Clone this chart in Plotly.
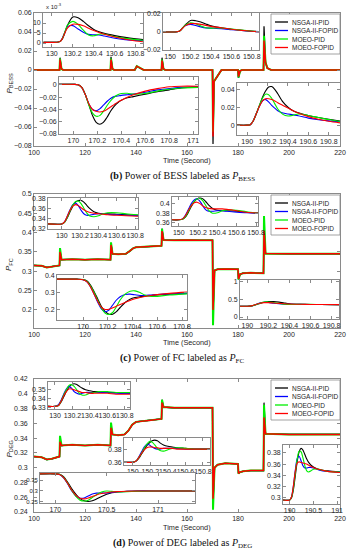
import plotly.graph_objects as go

W, H = 352, 550
FONT = "Liberation Sans, Arial, sans-serif"
SERIF = "Liberation Serif, Times New Roman, serif"
AXC = "#8a8a8a"
TXT = "#262626"

names = ["NSGA-II-PID", "NSGA-II-FOPID", "MOEO-PID", "MOEO-FOPID"]
colors = ["#000000", "#0000ff", "#00ee00", "#ff0000"]
main_widths = [1.2, 1.2, 2.0, 1.5]

main_xticks = [100, 120, 140, 160, 180, 200, 220]

# ---------------- Panel (b): P_BESS main trace (None = transient peak) -----
b_t = [100, 110, 110.2, 110.8, 111.5, 130, 130.2, 130.8, 131.5, 139.5, 140.3, 141, 142, 143,
       150, 150.2, 150.8, 151.5, 170, 170.2, 170.6, 171.5, 172.5, 173.5, 180, 180.2, 180.8,
       181.5, 190, 190.2, 190.8, 191.5, 193, 220]
b_y = [0, 0, None, 0.001, 0, 0, None, 0.001, 0, 0, 0.004, 0.003, 0.001, 0,
       0, None, 0.001, 0, 0, None, -0.012, -0.008, -0.003, 0, 0, None, -0.001,
       0, 0, None, 0.008, 0.002, 0, 0]
b_peaks = {
    "NSGA-II-PID":   [0.013, 0.014, 0.013, -0.078, -0.008, 0.046],
    "NSGA-II-FOPID": [0.010, 0.010, 0.009, -0.055, -0.008, 0.030],
    "MOEO-PID":      [0.012, 0.012, 0.011, -0.065, -0.008, 0.036],
    "MOEO-FOPID":    [0.011, 0.011, 0.010, -0.070, -0.007, 0.031],
}
b_yticks = [-0.08, -0.06, -0.04, -0.02, 0, 0.02, 0.04, 0.06]

# ---------------- Panel (c): P_FC main trace -----------------------------
c_t = [100, 103, 105, 107, 110, 110.2, 110.8, 115, 120, 125, 130, 130.2, 130.8, 133, 136,
       137.5, 139, 140, 145, 150, 150.2, 150.8, 155, 160, 165, 170, 170.2, 170.8, 172, 175,
       180, 180.2, 180.8, 182, 185, 190, 190.2, 190.8, 200, 210, 220]
c_y = [0.315, 0.314, 0.31, 0.312, 0.315, None, 0.33, 0.331, 0.33, 0.331, 0.33, None, 0.345, 0.344, 0.345,
       0.352, 0.36, 0.362, 0.364, 0.366, None, 0.381, 0.38, 0.381, 0.38, 0.38, None, 0.302, 0.305, 0.306,
       0.305, None, 0.292, 0.295, 0.296, 0.295, None, 0.346, 0.345, 0.345, 0.345]
c_peaks = {
    "NSGA-II-PID":   [0.355, 0.372, 0.410, 0.190, 0.280, 0.420],
    "NSGA-II-FOPID": [0.350, 0.370, 0.410, 0.190, 0.280, 0.410],
    "MOEO-PID":      [0.360, 0.375, 0.410, 0.160, 0.278, 0.443],
    "MOEO-FOPID":    [0.350, 0.368, 0.404, 0.200, 0.280, 0.405],
}
c_yticks = [0.2, 0.25, 0.3, 0.35, 0.4, 0.45, 0.5]

# ---------------- Panel (d): P_DEG main trace ----------------------------
d_t = [100, 103, 105, 107, 110, 110.2, 110.8, 115, 120, 125, 130, 130.2, 130.8, 133, 135.5,
       137, 138.5, 140, 145, 150, 150.2, 150.8, 155, 160, 165, 170, 170.2, 170.8, 172, 175,
       180, 180.2, 180.8, 182, 185, 190, 190.2, 190.8, 200, 210, 220]
d_y = [0.315, 0.314, 0.311, 0.312, 0.315, None, 0.33, 0.331, 0.33, 0.331, 0.33, None, 0.345, 0.344, 0.345,
       0.35, 0.358, 0.362, 0.364, 0.366, None, 0.382, 0.381, 0.381, 0.38, 0.381, None, 0.3, 0.304, 0.306,
       0.305, None, 0.294, 0.295, 0.296, 0.296, None, 0.346, 0.345, 0.345, 0.345]
d_peaks = {
    "NSGA-II-PID":   [0.338, 0.358, 0.392, 0.250, 0.292, 0.388],
    "NSGA-II-FOPID": [0.336, 0.356, 0.390, 0.255, 0.292, 0.378],
    "MOEO-PID":      [0.343, 0.361, 0.392, 0.243, 0.292, 0.385],
    "MOEO-FOPID":    [0.335, 0.354, 0.388, 0.258, 0.292, 0.368],
}
d_yticks = [0.24, 0.26, 0.28, 0.3, 0.32, 0.34, 0.36, 0.38, 0.4, 0.42]

# ---------------- Inset (zoom) data -----------------------------------------
# (b) 130 s, values in units of 1e-3
b1_t = [129.92, 130.0, 130.05, 130.08, 130.1, 130.12, 130.15, 130.2, 130.25, 130.3, 130.35, 130.4,
        130.45, 130.5, 130.6, 130.7, 130.8, 130.87]
b1 = {
    "NSGA-II-PID":   [0.3, 0.3, 0.4, 0.8, 2.0, 4.5, 9.0, 13.0, 12.6, 10.8, 8.6, 6.8, 5.6, 4.8, 3.7, 2.8, 2.1, 1.7],
    "NSGA-II-FOPID": [0.3, 0.3, 0.4, 0.9, 2.4, 5.0, 8.2, 8.7, 7.0, 5.4, 4.3, 4.1, 4.0, 3.5, 2.4, 1.7, 1.3, 1.2],
    "MOEO-PID":      [0.3, 0.3, 0.4, 0.8, 2.2, 5.0, 9.0, 10.8, 9.3, 6.4, 4.0, 3.6, 4.4, 4.5, 3.2, 2.3, 1.7, 1.4],
    "MOEO-FOPID":    [0.3, 0.3, 0.4, 0.8, 2.2, 4.6, 7.6, 9.4, 9.3, 8.6, 7.4, 6.2, 5.2, 4.4, 3.0, 1.9, 1.0, 0.6],
}
b2_t = [149.92, 150.0, 150.05, 150.08, 150.1, 150.12, 150.15, 150.2, 150.25, 150.3, 150.35, 150.4,
        150.5, 150.6, 150.7, 150.8, 150.87]
b2 = {
    "NSGA-II-PID":   [0, 0, 0, 0.0005, 0.0015, 0.004, 0.008, 0.0128, 0.0125, 0.011, 0.0088, 0.0068, 0.0045, 0.003, 0.0018, 0.0008, 0.0003],
    "NSGA-II-FOPID": [0, 0, 0, 0.0005, 0.0018, 0.0042, 0.0072, 0.0084, 0.0072, 0.0056, 0.0045, 0.0042, 0.0036, 0.0026, 0.0016, 0.0008, 0.0004],
    "MOEO-PID":      [0, 0, 0, 0.0005, 0.0016, 0.0042, 0.0078, 0.0102, 0.009, 0.0066, 0.0046, 0.0042, 0.0044, 0.0032, 0.002, 0.001, 0.0005],
    "MOEO-FOPID":    [0, 0, 0, 0.0005, 0.0016, 0.004, 0.007, 0.0092, 0.0092, 0.0084, 0.0073, 0.0062, 0.0046, 0.003, 0.0018, 0.0008, 0.0002],
}
b3_t = [169.88, 170.0, 170.04, 170.07, 170.1, 170.13, 170.16, 170.19, 170.22, 170.25, 170.28, 170.31,
        170.34, 170.37, 170.4, 170.45, 170.5, 170.6, 170.7, 170.8, 170.9, 171.04]
b3 = {
    "NSGA-II-PID":   [0.001, 0.001, 0.0005, -0.004, -0.016, -0.033, -0.050, -0.061, -0.064, -0.061, -0.053, -0.043, -0.035, -0.029, -0.025, -0.021, -0.019, -0.015, -0.011, -0.008, -0.005, -0.003],
    "NSGA-II-FOPID": [0.001, 0.001, 0.0005, -0.004, -0.016, -0.031, -0.040, -0.042, -0.039, -0.033, -0.027, -0.022, -0.019, -0.018, -0.017, -0.016, -0.015, -0.012, -0.008, -0.006, -0.004, -0.003],
    "MOEO-PID":      [0.001, 0.001, 0.0005, -0.004, -0.016, -0.033, -0.046, -0.051, -0.050, -0.043, -0.034, -0.026, -0.020, -0.016, -0.014, -0.0135, -0.015, -0.014, -0.010, -0.007, -0.005, -0.004],
    "MOEO-FOPID":    [0.001, 0.001, 0.0005, -0.004, -0.016, -0.031, -0.040, -0.043, -0.044, -0.043, -0.040, -0.036, -0.032, -0.028, -0.025, -0.020, -0.016, -0.010, -0.006, -0.003, -0.002, -0.002],
}
b4_t = [189.9, 190.0, 190.03, 190.06, 190.09, 190.12, 190.15, 190.18, 190.21, 190.24, 190.27, 190.3,
        190.35, 190.4, 190.45, 190.5, 190.6, 190.7, 190.8, 190.91]
b4 = {
    "NSGA-II-PID":   [0, 0, 0.0005, 0.005, 0.013, 0.022, 0.031, 0.038, 0.0425, 0.043, 0.040, 0.035, 0.026, 0.020, 0.016, 0.0138, 0.0108, 0.0085, 0.0065, 0.0045],
    "NSGA-II-FOPID": [0, 0, 0.0005, 0.005, 0.013, 0.021, 0.027, 0.0285, 0.026, 0.022, 0.019, 0.016, 0.0135, 0.0125, 0.0115, 0.0105, 0.0078, 0.006, 0.0048, 0.0038],
    "MOEO-PID":      [0, 0, 0.0005, 0.005, 0.013, 0.022, 0.030, 0.0345, 0.034, 0.030, 0.024, 0.018, 0.012, 0.0102, 0.011, 0.0125, 0.0108, 0.0085, 0.0062, 0.004],
    "MOEO-FOPID":    [0, 0, 0.0005, 0.005, 0.013, 0.021, 0.027, 0.0295, 0.0295, 0.0285, 0.027, 0.025, 0.022, 0.019, 0.016, 0.0135, 0.0095, 0.0065, 0.0043, 0.0025],
}
# (c)
c1_t = [129.85, 130.0, 130.03, 130.06, 130.09, 130.12, 130.15, 130.18, 130.21, 130.24, 130.27, 130.3,
        130.35, 130.4, 130.45, 130.5, 130.6, 130.7, 130.83]
c1 = {
    "NSGA-II-PID":   [0.33, 0.33, 0.333, 0.342, 0.354, 0.365, 0.373, 0.376, 0.376, 0.373, 0.367, 0.361, 0.354, 0.351, 0.350, 0.350, 0.349, 0.348, 0.347],
    "NSGA-II-FOPID": [0.33, 0.33, 0.334, 0.345, 0.358, 0.368, 0.371, 0.366, 0.357, 0.350, 0.347, 0.347, 0.349, 0.350, 0.350, 0.349, 0.348, 0.347, 0.346],
    "MOEO-PID":      [0.33, 0.33, 0.333, 0.343, 0.356, 0.367, 0.374, 0.375, 0.370, 0.361, 0.352, 0.346, 0.344, 0.346, 0.350, 0.352, 0.352, 0.350, 0.348],
    "MOEO-FOPID":    [0.33, 0.33, 0.334, 0.345, 0.357, 0.365, 0.368, 0.366, 0.362, 0.358, 0.355, 0.353, 0.351, 0.350, 0.349, 0.348, 0.347, 0.346, 0.345],
}
c2_t = [149.93, 150.0, 150.04, 150.07, 150.1, 150.13, 150.16, 150.19, 150.22, 150.25, 150.28, 150.31,
        150.35, 150.4, 150.45, 150.5, 150.6, 150.7, 150.82]
c2 = {
    "NSGA-II-PID":   [0.366, 0.366, 0.367, 0.372, 0.382, 0.394, 0.404, 0.410, 0.412, 0.410, 0.404, 0.397, 0.390, 0.386, 0.385, 0.385, 0.384, 0.382, 0.380],
    "NSGA-II-FOPID": [0.366, 0.366, 0.368, 0.376, 0.388, 0.400, 0.408, 0.410, 0.405, 0.395, 0.387, 0.384, 0.384, 0.385, 0.385, 0.384, 0.382, 0.381, 0.380],
    "MOEO-PID":      [0.366, 0.366, 0.367, 0.373, 0.384, 0.396, 0.405, 0.410, 0.411, 0.406, 0.396, 0.386, 0.380, 0.381, 0.385, 0.387, 0.386, 0.383, 0.380],
    "MOEO-FOPID":    [0.366, 0.366, 0.368, 0.375, 0.386, 0.396, 0.402, 0.403, 0.400, 0.395, 0.392, 0.390, 0.389, 0.389, 0.389, 0.388, 0.385, 0.382, 0.380],
}
c3_t = [169.79, 169.95, 170.0, 170.03, 170.06, 170.09, 170.12, 170.15, 170.18, 170.21, 170.24, 170.27,
        170.3, 170.34, 170.38, 170.42, 170.46, 170.5, 170.55, 170.6, 170.7, 170.84]
c3 = {
    "NSGA-II-PID":   [0.38, 0.38, 0.378, 0.37, 0.345, 0.305, 0.26, 0.215, 0.185, 0.17, 0.17, 0.185, 0.21, 0.24, 0.26, 0.27, 0.275, 0.278, 0.282, 0.285, 0.29, 0.295],
    "NSGA-II-FOPID": [0.38, 0.38, 0.377, 0.365, 0.335, 0.29, 0.24, 0.2, 0.185, 0.195, 0.225, 0.255, 0.275, 0.288, 0.29, 0.286, 0.282, 0.282, 0.285, 0.288, 0.292, 0.295],
    "MOEO-PID":      [0.38, 0.38, 0.378, 0.368, 0.34, 0.3, 0.25, 0.205, 0.175, 0.168, 0.18, 0.215, 0.255, 0.29, 0.308, 0.31, 0.3, 0.285, 0.276, 0.277, 0.285, 0.292],
    "MOEO-FOPID":    [0.38, 0.38, 0.377, 0.365, 0.335, 0.29, 0.245, 0.21, 0.198, 0.2, 0.208, 0.218, 0.228, 0.24, 0.252, 0.262, 0.27, 0.276, 0.282, 0.287, 0.295, 0.302],
}
c4_t = [189.93, 190.0, 190.04, 190.08, 190.12, 190.16, 190.2, 190.25, 190.3, 190.35, 190.4, 190.5,
        190.6, 190.7, 190.87]
c4 = {
    "NSGA-II-PID":   [0.3, 0.3, 0.31, 0.34, 0.38, 0.41, 0.43, 0.43, 0.415, 0.39, 0.37, 0.355, 0.35, 0.348, 0.345],
    "NSGA-II-FOPID": [0.3, 0.3, 0.31, 0.35, 0.39, 0.41, 0.405, 0.385, 0.37, 0.36, 0.355, 0.352, 0.35, 0.348, 0.345],
    "MOEO-PID":      [0.3, 0.3, 0.31, 0.345, 0.385, 0.415, 0.42, 0.405, 0.38, 0.36, 0.35, 0.355, 0.352, 0.348, 0.345],
    "MOEO-FOPID":    [0.3, 0.3, 0.31, 0.35, 0.385, 0.4, 0.4, 0.39, 0.38, 0.37, 0.362, 0.355, 0.35, 0.347, 0.345],
}
# (d)
d1_t = [129.92, 130.0, 130.04, 130.07, 130.1, 130.13, 130.16, 130.19, 130.22, 130.25, 130.28, 130.31,
        130.35, 130.4, 130.45, 130.5, 130.6, 130.7, 130.86]
d1 = {
    "NSGA-II-PID":   [0.331, 0.331, 0.332, 0.336, 0.342, 0.348, 0.353, 0.356, 0.357, 0.356, 0.354, 0.352, 0.350, 0.349, 0.348, 0.348, 0.347, 0.347, 0.346],
    "NSGA-II-FOPID": [0.331, 0.331, 0.333, 0.338, 0.345, 0.351, 0.354, 0.352, 0.348, 0.346, 0.345, 0.346, 0.347, 0.347, 0.347, 0.347, 0.347, 0.346, 0.346],
    "MOEO-PID":      [0.331, 0.331, 0.332, 0.337, 0.344, 0.350, 0.355, 0.356, 0.354, 0.350, 0.346, 0.344, 0.344, 0.346, 0.347, 0.348, 0.348, 0.347, 0.347],
    "MOEO-FOPID":    [0.331, 0.331, 0.332, 0.337, 0.343, 0.348, 0.351, 0.351, 0.350, 0.349, 0.348, 0.347, 0.347, 0.346, 0.346, 0.346, 0.346, 0.345, 0.345],
}
d2_t = [149.9, 150.0, 150.04, 150.07, 150.1, 150.13, 150.16, 150.19, 150.22, 150.25, 150.28, 150.31,
        150.35, 150.4, 150.45, 150.5, 150.6, 150.7, 150.88]
d2 = {
    "NSGA-II-PID":   [0.361, 0.361, 0.363, 0.367, 0.373, 0.379, 0.385, 0.389, 0.392, 0.393, 0.392, 0.389, 0.386, 0.384, 0.383, 0.382, 0.381, 0.380, 0.380],
    "NSGA-II-FOPID": [0.361, 0.361, 0.363, 0.369, 0.376, 0.383, 0.387, 0.386, 0.383, 0.381, 0.380, 0.380, 0.381, 0.381, 0.381, 0.381, 0.380, 0.380, 0.380],
    "MOEO-PID":      [0.361, 0.361, 0.363, 0.368, 0.374, 0.381, 0.387, 0.391, 0.390, 0.386, 0.381, 0.378, 0.377, 0.379, 0.381, 0.382, 0.381, 0.380, 0.380],
    "MOEO-FOPID":    [0.361, 0.361, 0.363, 0.368, 0.374, 0.379, 0.382, 0.383, 0.383, 0.382, 0.382, 0.381, 0.381, 0.381, 0.381, 0.380, 0.380, 0.380, 0.380],
}
d3_t = [169.85, 170.0, 170.04, 170.08, 170.12, 170.16, 170.2, 170.24, 170.28, 170.32, 170.36, 170.4,
        170.45, 170.5, 170.55, 170.6, 170.7, 170.8, 171.0, 171.36]
d3 = {
    "NSGA-II-PID":   [0.378, 0.378, 0.376, 0.365, 0.34, 0.31, 0.285, 0.265, 0.255, 0.252, 0.255, 0.263, 0.275, 0.285, 0.292, 0.296, 0.299, 0.3, 0.3, 0.3],
    "NSGA-II-FOPID": [0.378, 0.378, 0.375, 0.36, 0.332, 0.3, 0.277, 0.267, 0.268, 0.277, 0.286, 0.29, 0.291, 0.291, 0.293, 0.295, 0.298, 0.3, 0.3, 0.3],
    "MOEO-PID":      [0.378, 0.378, 0.376, 0.362, 0.335, 0.302, 0.275, 0.258, 0.254, 0.258, 0.27, 0.283, 0.295, 0.3, 0.298, 0.296, 0.297, 0.299, 0.3, 0.3],
    "MOEO-FOPID":    [0.378, 0.378, 0.375, 0.361, 0.334, 0.303, 0.28, 0.267, 0.264, 0.268, 0.275, 0.282, 0.288, 0.292, 0.295, 0.297, 0.299, 0.3, 0.3, 0.3],
}
d4_t = [189.86, 190.0, 190.04, 190.08, 190.12, 190.16, 190.2, 190.24, 190.28, 190.32, 190.36, 190.4,
        190.45, 190.5, 190.6, 190.7, 190.8, 191.06]
d4 = {
    "NSGA-II-PID":   [0.296, 0.296, 0.3, 0.315, 0.34, 0.365, 0.382, 0.388, 0.385, 0.377, 0.369, 0.363, 0.358, 0.355, 0.351, 0.349, 0.348, 0.346],
    "NSGA-II-FOPID": [0.296, 0.296, 0.302, 0.322, 0.35, 0.37, 0.374, 0.366, 0.357, 0.353, 0.353, 0.354, 0.354, 0.353, 0.35, 0.348, 0.347, 0.346],
    "MOEO-PID":      [0.296, 0.296, 0.301, 0.318, 0.345, 0.37, 0.383, 0.382, 0.371, 0.357, 0.348, 0.346, 0.348, 0.351, 0.351, 0.349, 0.347, 0.346],
    "MOEO-FOPID":    [0.296, 0.296, 0.302, 0.322, 0.348, 0.362, 0.364, 0.363, 0.362, 0.361, 0.36, 0.358, 0.356, 0.354, 0.351, 0.349, 0.347, 0.345],
}

x130 = [130, 130.2, 130.4, 130.6, 130.8]
x150 = [150, 150.2, 150.4, 150.6, 150.8]
x170 = [170, 170.2, 170.4, 170.6, 170.8, 171]
x190 = [190, 190.2, 190.4, 190.6, 190.8]

# ---------------- Layout specs (pixel boxes: left, right, top, bottom) ------
mains = [
    dict(t=b_t, y=b_y, peaks=b_peaks, box=(34, 340, 13, 146), yr=[-0.08, 0.06], yt=b_yticks,
         ylab="<i>P</i><sub>BESS</sub>", cap="<b>(b)</b> Power of BESS labeled as <i>P</i><sub>BESS</sub>",
         time_y=160, cap_y=177, so=0),
    dict(t=c_t, y=c_y, peaks=c_peaks, box=(34, 340, 194, 328), yr=[0.153, 0.5], yt=c_yticks,
         ylab="<i>P</i><sub>FC</sub>", cap="<b>(c)</b> Power of FC labeled as <i>P</i><sub>FC</sub>",
         time_y=342, cap_y=358, so=0),
    dict(t=d_t, y=d_y, peaks=d_peaks, box=(34, 340, 379, 512), yr=[0.24, 0.42], yt=d_yticks,
         ylab="<i>P</i><sub>DEG</sub>", cap="<b>(d)</b> Power of DEG labeled as <i>P</i><sub>DEG</sub>",
         time_y=527, cap_y=543, so=4),
]
insets = [
    dict(t=b1_t, d=b1, box=(43, 143, 13, 47), xr=[129.915, 130.87], yr=[-2, 15], xt=x130, yt=[0, 5, 10]),
    dict(t=b2_t, d=b2, box=(163, 259, 13, 50), xr=[149.93, 150.87], yr=[-0.02, 0.021], xt=x150, yt=[-0.02, 0, 0.02]),
    dict(t=b3_t, d=b3, box=(59, 198, 77, 134), xr=[169.88, 171.04], yr=[-0.08, 0.013], xt=x170, yt=[-0.08, -0.06, -0.04, -0.02, 0]),
    dict(t=b4_t, d=b4, box=(237, 340, 83, 135), xr=[189.9, 190.91], yr=[-0.011, 0.047], xt=x190, yt=[0, 0.02, 0.04]),
    dict(t=c1_t, d=c1, box=(48, 138, 198, 229), xr=[129.85, 130.83], yr=[0.32, 0.381], xt=x130, yt=[0.32, 0.34, 0.36, 0.38]),
    dict(t=c2_t, d=c2, box=(172, 258, 197, 226), xr=[149.93, 150.82], yr=[0.353, 0.414], xt=x150, yt=[0.36, 0.38, 0.4]),
    dict(t=c3_t, d=c3, box=(57, 187, 275, 320), xr=[169.79, 170.84], yr=[0.135, 0.405], xt=x170[:5], yt=[0.2, 0.3, 0.4]),
    dict(t=c4_t, d=c4, box=(240, 339, 280, 319), xr=[189.93, 190.87], yr=[-0.055, 1.03], xt=x190, yt=[0, 0.5, 1]),
    dict(t=d1_t, d=d1, box=(48, 130, 382, 409), xr=[129.92, 130.86], yr=[0.328, 0.359], xt=x130, yt=[0.33, 0.34, 0.35]),
    dict(t=d2_t, d=d2, box=(124, 210, 438, 465), xr=[149.9, 150.88], yr=[0.357, 0.396], xt=x150, yt=[0.36, 0.38]),
    dict(t=d3_t, d=d3, box=(40, 195, 473, 503), xr=[169.85, 171.36], yr=[0.245, 0.382], xt=[170, 170.5, 171], yt=[0.25, 0.3, 0.35], yfs=6),
    dict(t=d4_t, d=d4, box=(283, 340, 445, 504), xr=[189.86, 191.06], yr=[0.289, 0.394], xt=[190, 190.5, 191], yt=[0.3, 0.32, 0.34, 0.36, 0.38]),
]


def xd(l, r):
    return [l / W, r / W]


def yd(top, bot):
    return [1 - bot / H, 1 - top / H]


def axstyle(fs=7, **kw):
    d = dict(showline=True, linecolor=AXC, linewidth=0.8, mirror="ticks", ticks="inside",
             ticklen=3, tickwidth=0.7, tickcolor=AXC, showgrid=False, zeroline=False,
             tickfont=dict(family=FONT, size=fs, color=TXT), tickangle=0, tickformat="~g",
             fixedrange=True, automargin=False)
    d.update(kw)
    return d


def fill(base, peaks):
    it = iter(peaks)
    return [next(it) if v is None else v for v in base]


def note(x, y, text, size, family=FONT, color=TXT, **kw):
    d = dict(x=x / W, y=1 - y / H, xref="paper", yref="paper", text=text, showarrow=False,
             xanchor="center", yanchor="middle", font=dict(family=family, size=size, color=color))
    d.update(kw)
    return d


fig = go.Figure()
layout = {}
annotations = []
shapes = []
n = 0

for m in mains:
    n += 1
    sfx = "" if n == 1 else str(n)
    l, r, top, bot = m["box"]
    for name, col, w in zip(names, colors, main_widths):
        fig.add_trace(go.Scatter(x=m["t"], y=fill(m["y"], m["peaks"][name]), mode="lines",
                                 line=dict(color=col, width=w), showlegend=False,
                                 xaxis="x" + sfx, yaxis="y" + sfx, hoverinfo="skip"))
    layout["xaxis" + sfx] = axstyle(domain=xd(l, r), range=[100, 220], tickvals=main_xticks,
                                    anchor="y" + sfx)
    layout["yaxis" + sfx] = axstyle(domain=yd(top, bot), range=m["yr"], tickvals=m["yt"],
                                    anchor="x" + sfx, ticklabelstandoff=m["so"])
    mid = (top + bot) / 2 + 4
    annotations.append(note(9, mid, m["ylab"], 8, textangle=-90))
    annotations.append(note((l + r) / 2, m["time_y"], "Time (Second)", 7.3))
    annotations.append(note(182, m["cap_y"], m["cap"], 10, family=SERIF, color="#111111"))
    # legend box (drawn manually so it can match the compact original)
    lt = top + 1
    shapes.append(dict(type="rect", xref="paper", yref="paper", x0=271 / W, x1=340 / W,
                       y0=1 - (lt + 40) / H, y1=1 - lt / H, fillcolor="white",
                       line=dict(color=AXC, width=0.8), layer="above"))
    for i, (name, col) in enumerate(zip(names, colors)):
        yy = lt + 8 + 8.5 * i
        shapes.append(dict(type="line", xref="paper", yref="paper", x0=275 / W, x1=288 / W,
                           y0=1 - yy / H, y1=1 - yy / H, line=dict(color=col, width=1.3),
                           layer="above"))
        annotations.append(note(290, yy, name, 6.5, xanchor="left"))

for ins in insets:
    n += 1
    sfx = str(n)
    l, r, top, bot = ins["box"]
    for name, col in zip(names, colors):
        fig.add_trace(go.Scatter(x=ins["t"], y=ins["d"][name], mode="lines",
                                 line=dict(color=col, width=1.1, shape="spline", smoothing=0.8),
                                 showlegend=False, xaxis="x" + sfx, yaxis="y" + sfx,
                                 hoverinfo="skip"))
    layout["xaxis" + sfx] = axstyle(domain=xd(l, r), range=ins["xr"], tickvals=ins["xt"],
                                    anchor="y" + sfx)
    layout["yaxis" + sfx] = axstyle(fs=ins.get("yfs", 7), domain=yd(top, bot), range=ins["yr"],
                                    tickvals=ins["yt"], anchor="x" + sfx)

annotations.append(note(44, 6, "x 10<sup>-3</sup>", 6, xanchor="left"))

fig.update_layout(template="none", width=W, height=H,
                  margin=dict(l=0, r=0, t=0, b=0, pad=0, autoexpand=False),
                  paper_bgcolor="white", plot_bgcolor="white", showlegend=False,
                  annotations=annotations, shapes=shapes, **layout)

fig.write_html("out.html", config={"displayModeBar": False},
               post_script="document.body.style.margin='0px';document.body.style.padding='0px';"
                           "document.documentElement.style.overflow='hidden';")
